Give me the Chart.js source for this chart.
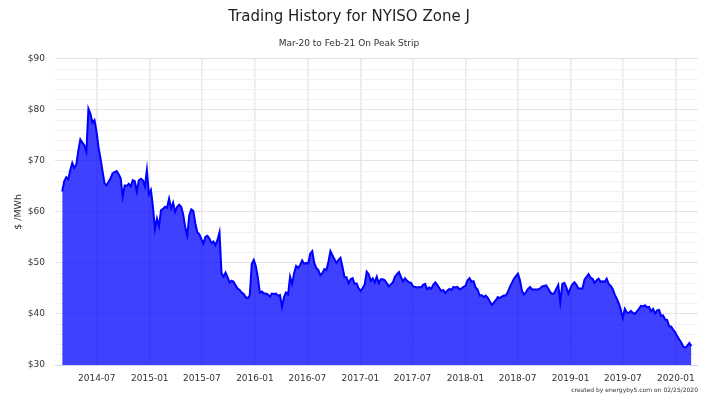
<!DOCTYPE html>
<html>
<head>
<meta charset="utf-8">
<script src="https://cdn.jsdelivr.net/npm/chart.js@4.4.1/dist/chart.umd.min.js"></script>
<style>
  body { margin: 0; background: #fff; }
</style>
</head>
<body>
<canvas id="zoneJChart" width="705" height="396"></canvas>
<script>
// Weekly settlements, first one on 2014-03-03
const startDate = Date.UTC(2014, 2, 3);
const stepDays = 7;

// $/MWh, one value per week
const prices = [
  64.0, 66.0, 66.8, 66.4, 68.2, 69.6, 68.6, 69.3, 72.0, 74.2,
  73.6, 73.0, 71.8, 80.2, 79.2, 77.5, 78.0, 75.8, 72.7, 70.5,
  68.0, 65.6, 65.2, 65.9, 66.6, 67.6, 67.8, 68.0, 67.4, 66.6,
  63.0, 65.2, 65.1, 65.5, 65.0, 66.2, 66.0, 64.0, 66.2, 66.5,
  66.2, 65.0, 68.2, 63.5, 64.3, 61.0, 56.6, 58.7, 57.2, 60.3,
  60.6, 61.0, 60.8, 62.6, 60.7, 61.8, 60.0, 61.0, 61.4, 61.0,
  59.5, 57.0, 55.4, 59.3, 60.5, 60.2, 57.8, 56.0, 55.6, 54.7,
  53.8, 55.1, 55.3, 54.8, 53.9, 54.2, 53.5, 54.5, 56.0, 48.0,
  47.3, 48.1, 47.2, 46.2, 46.5, 46.3, 45.6, 45.0, 44.7, 44.2,
  43.9, 43.3, 43.1, 43.6, 49.8, 50.6, 49.4, 47.2, 44.2, 44.4,
  44.0, 44.0, 43.8, 43.4, 44.0, 43.9, 44.0, 43.6, 43.7, 41.4,
  43.3, 44.2, 43.8, 47.3, 45.9, 48.0, 49.4, 49.0, 49.6, 50.5,
  49.8, 50.0, 49.9, 51.8, 52.3, 50.0, 49.0, 48.6, 47.6, 48.0,
  48.8, 48.6, 50.2, 52.3, 51.5, 50.7, 50.0, 50.6, 51.0, 49.2,
  47.2, 47.2, 46.0, 46.8, 47.0, 45.9, 46.0, 45.0, 44.5, 45.1,
  45.8, 48.3, 47.8, 46.5, 47.0, 46.2, 47.3, 46.0, 46.8, 46.8,
  46.6, 46.0, 45.4, 45.8, 46.2, 47.3, 47.8, 48.2, 47.2, 46.4,
  47.0, 46.5, 46.2, 46.1, 45.4, 45.3, 45.2, 45.3, 45.2, 45.7,
  45.9, 44.8, 45.2, 44.9, 45.7, 46.2, 45.7, 45.1, 44.5, 44.7,
  44.1, 44.6, 44.9, 44.7, 45.3, 45.2, 45.3, 44.8, 45.0, 45.3,
  45.5, 46.6, 47.0, 46.3, 46.4, 45.2, 44.8, 43.6, 43.7, 43.3,
  43.6, 43.2, 42.5, 41.8, 42.2, 42.7, 43.3, 43.1, 43.4, 43.6,
  43.6, 44.3, 45.3, 46.1, 46.9, 47.4, 47.9, 46.6, 44.5, 43.8,
  44.3, 44.9, 45.3, 44.8, 44.8, 44.8, 44.8, 45.0, 45.4, 45.5,
  45.6, 45.0, 44.3, 43.9, 44.1, 44.9, 45.7, 42.3, 45.9, 46.1,
  45.2, 44.0, 45.0, 45.8, 46.2, 45.7, 45.0, 45.0, 45.0, 46.7,
  47.3, 47.8, 47.1, 46.9, 46.1, 46.6, 46.9, 46.3, 46.4, 46.3,
  46.9, 45.9, 45.5, 44.9, 43.8, 43.0, 42.1, 40.8, 39.2, 41.0,
  40.3, 40.2, 40.6, 40.2, 40.0, 40.5, 41.0, 41.6, 41.5, 41.7,
  41.3, 41.4, 40.5, 41.0, 40.1, 40.7, 40.8, 39.6, 39.7, 38.9,
  38.8, 37.6, 37.5, 36.9, 36.4, 35.6, 35.0, 34.4, 33.6, 33.4,
  33.8, 34.3, 33.7
];

// x axis labels (first of month)
const tickLabels = [
  '2014-07', '2015-01', '2015-07', '2016-01', '2016-07', '2017-01',
  '2017-07', '2018-01', '2018-07', '2019-01', '2019-07', '2020-01'
];

const xMin = Date.UTC(2014, 1, 6);
const xMax = Date.UTC(2020, 2, 18);
const yMin = 30;
const yMax = 90;

const titleText = 'Trading History for NYISO Zone J';
const subtitleText = 'Mar-20 to Feb-21 On Peak Strip';
const yTitleText = '$ /MWh';
const creditText = 'created by energyby5.com on 02/25/2020';

const dayMs = 24 * 3600 * 1000;
const points = prices.map((p, i) => ({ x: startDate + i * stepDays * dayMs, y: p }));

const tickValues = tickLabels.map(s => {
  const parts = s.split('-');
  return Date.UTC(Number(parts[0]), Number(parts[1]) - 1, 1);
});

const fontFamily = '"DejaVu Sans", sans-serif';

// little plugin for the "created by" line under the chart
const creditPlugin = {
  id: 'credit',
  afterDraw(chart) {
    const ctx = chart.ctx;
    ctx.save();
    ctx.font = '6px ' + fontFamily;
    ctx.fillStyle = '#333';
    ctx.textAlign = 'right';
    ctx.textBaseline = 'middle';
    ctx.fillText(creditText, chart.width - 7, 390);
    ctx.restore();
  }
};

const zoneJChart = new Chart(document.getElementById('zoneJChart'), {
  type: 'line',
  data: {
    datasets: [{
      data: points,
      borderColor: '#0000ff',
      borderWidth: 2,
      backgroundColor: 'rgba(0, 0, 255, 0.75)',
      fill: 'start',
      pointRadius: 0,
      tension: 0
    }]
  },
  options: {
    responsive: false,
    animation: false,
    layout: { padding: { left: 0, right: 7, top: 0, bottom: 0 } },
    plugins: {
      legend: { display: false },
      tooltip: { enabled: false },
      title: {
        display: true,
        text: titleText,
        color: '#222',
        font: { family: fontFamily, size: 15, weight: 'normal' },
        padding: { top: 8, bottom: 0 }
      },
      subtitle: {
        display: true,
        text: subtitleText,
        color: '#333',
        font: { family: fontFamily, size: 9 },
        padding: { top: 12, bottom: 10 }
      }
    },
    scales: {
      x: {
        type: 'linear',
        min: xMin,
        max: xMax,
        afterBuildTicks: (scale) => {
          scale.ticks = tickValues.map(v => ({ value: v }));
        },
        afterFit: (scale) => { scale.height = 31; },
        ticks: {
          autoSkip: false,
          maxRotation: 0,
          padding: 8,
          color: '#333',
          font: { family: fontFamily, size: 9 },
          callback: (value) => tickLabels[tickValues.indexOf(value)]
        },
        grid: { color: '#e8e8ee', lineWidth: 1.5, drawTicks: false },
        border: { display: true, color: '#ccd6eb' }
      },
      y: {
        min: yMin,
        max: yMax,
        afterFit: (scale) => { scale.width = 55; },
        ticks: {
          stepSize: 2,
          autoSkip: false,
          padding: 10,
          color: '#333',
          font: { family: fontFamily, size: 9 },
          callback: (value) => (value % 10 === 0 ? '$' + value : '')
        },
        grid: {
          drawTicks: false,
          color: (ctx) => (ctx.tick && ctx.tick.value % 10 === 0 ? '#e2e2e6' : '#f1f1f3')
        },
        border: { display: false },
        title: {
          display: true,
          text: yTitleText,
          color: '#333',
          font: { family: fontFamily, size: 9.5 },
          padding: { top: 13, bottom: 0 }
        }
      }
    }
  },
  plugins: [creditPlugin]
});
</script>
</body>
</html>
